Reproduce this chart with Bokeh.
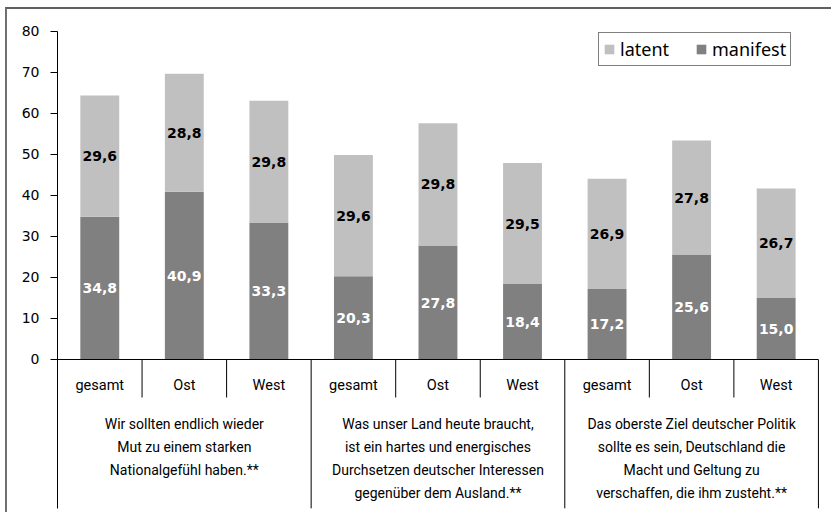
from bokeh.plotting import figure
from bokeh.models import ColumnDataSource, FixedTicker, Legend, LegendItem
from bokeh.core.properties import value
from bokeh.embed import file_html
from bokeh.resources import INLINE

# ---- data ----
subgroups = ["gesamt", "Ost", "West", "gesamt", "Ost", "West", "gesamt", "Ost", "West"]
groups = [
    "Wir sollten endlich wieder\nMut zu einem starken\nNationalgefühl haben.**",
    "Was unser Land heute braucht,\nist ein hartes und energisches\nDurchsetzen deutscher Interessen\ngegenüber dem Ausland.**",
    "Das oberste Ziel deutscher Politik\nsollte es sein, Deutschland die\nMacht und Geltung zu\nverschaffen, die ihm zusteht.**",
]
manifest = [34.8, 40.9, 33.3, 20.3, 27.8, 18.4, 17.2, 25.6, 15.0]
latent = [29.6, 28.8, 29.8, 29.6, 29.8, 29.5, 26.9, 27.8, 26.7]
y_ticks = [0, 10, 20, 30, 40, 50, 60, 70, 80]
series_names = ["latent", "manifest"]

# ---- layout constants ----
Y_MAX = 84.146
Y_MIN = Y_MAX - 500 / 4.1
SEP_BOTTOM = -36.3
N = len(subgroups)
per_group = 3
FONT_COND = "Roboto"

def fmt(v):
    return f"{v:.1f}".replace(".", ",")

xs = [i + 0.5 for i in range(N)]
total = [m + l for m, l in zip(manifest, latent)]
src = ColumnDataSource(dict(
    x=xs, manifest=manifest, latent=latent, total=total,
    m_mid=[m / 2 for m in manifest],
    l_mid=[m + l / 2 for m, l in zip(manifest, latent)],
    m_lab=[fmt(v) for v in manifest],
    l_lab=[fmt(v) for v in latent],
    sub=subgroups,
))

p = figure(width=826, height=505, x_range=(0, 9.06), y_range=(Y_MIN, Y_MAX),
           output_backend="svg", toolbar_location=None, x_axis_location=None,
           min_border_left=50, min_border_right=10, min_border_top=5, min_border_bottom=0)
p.styles = {"border-top": "2px solid #606060", "border-left": "2px solid #707070",
            "margin-left": "5px", "margin-top": "7px"}
p.grid.visible = False
p.outline_line_color = None
p.background_fill_color = "white"
p.border_fill_color = "white"

# y axis
yax = p.yaxis[0]
yax.ticker = FixedTicker(ticks=y_ticks)
yax.bounds = (SEP_BOTTOM, max(y_ticks))
yax.major_tick_out = 7
yax.major_tick_in = 0
yax.minor_tick_line_color = None
yax.axis_line_color = "black"
yax.major_tick_line_color = "black"
yax.major_label_standoff = 11
yax.major_label_text_font = "DejaVu Sans"
yax.major_label_text_font_size = "14px"
yax.major_label_text_color = "black"

# bars
r_man = p.vbar(x="x", width=0.46, bottom=0, top="manifest", source=src,
               fill_color="#808080", line_color=None)
r_lat = p.vbar(x="x", width=0.46, bottom="manifest", top="total", source=src,
               fill_color="#C0C0C0", line_color=None)

# value labels
p.text(x="x", y="m_mid", text="m_lab", source=src, text_align="center", text_baseline="middle",
       text_font=value("DejaVu Sans"), text_font_style="bold", text_font_size="14px", text_color="white")
p.text(x="x", y="l_mid", text="l_lab", source=src, text_align="center", text_baseline="middle",
       text_font=value("DejaVu Sans"), text_font_style="bold", text_font_size="14px", text_color="black")

# category axis (table style)
p.segment(x0=[0], y0=[0], x1=[N], y1=[0], line_color="black", line_width=1)
inner = [i for i in range(1, N) if i % per_group != 0]
outer = [i for i in range(per_group, N + 1, per_group)]
p.segment(x0=inner, y0=[0] * len(inner), x1=inner, y1=[-9.27] * len(inner), line_color="black", line_width=1)
p.segment(x0=outer, y0=[0] * len(outer), x1=outer, y1=[SEP_BOTTOM] * len(outer), line_color="black", line_width=1)

p.text(x="x", y=-6.3, text="sub", source=src, text_align="center", text_baseline="middle",
       text_font=value(FONT_COND), text_font_size="14.5px", text_color="black")

gx = [g * per_group + per_group / 2 for g in range(len(groups))]
p.text(x=gx, y=[-13.9] * len(groups), text=groups, text_align="center", text_baseline="top",
       text_font=value(FONT_COND), text_font_size="14px", text_color="black", text_line_height=1.42)

# legend
legend = Legend(items=[LegendItem(label=series_names[0], renderers=[r_lat]),
                       LegendItem(label=series_names[1], renderers=[r_man])],
                orientation="horizontal", location=(541, 448),
                glyph_width=12, glyph_height=12, label_standoff=5, spacing=26, padding=4, margin=0,
                label_text_font="Noto Sans", label_text_font_size="18px", label_text_color="black",
                border_line_color="black", border_line_width=1, background_fill_alpha=1)
p.add_layout(legend)

open("out.html", "w").write(file_html(p, INLINE))
